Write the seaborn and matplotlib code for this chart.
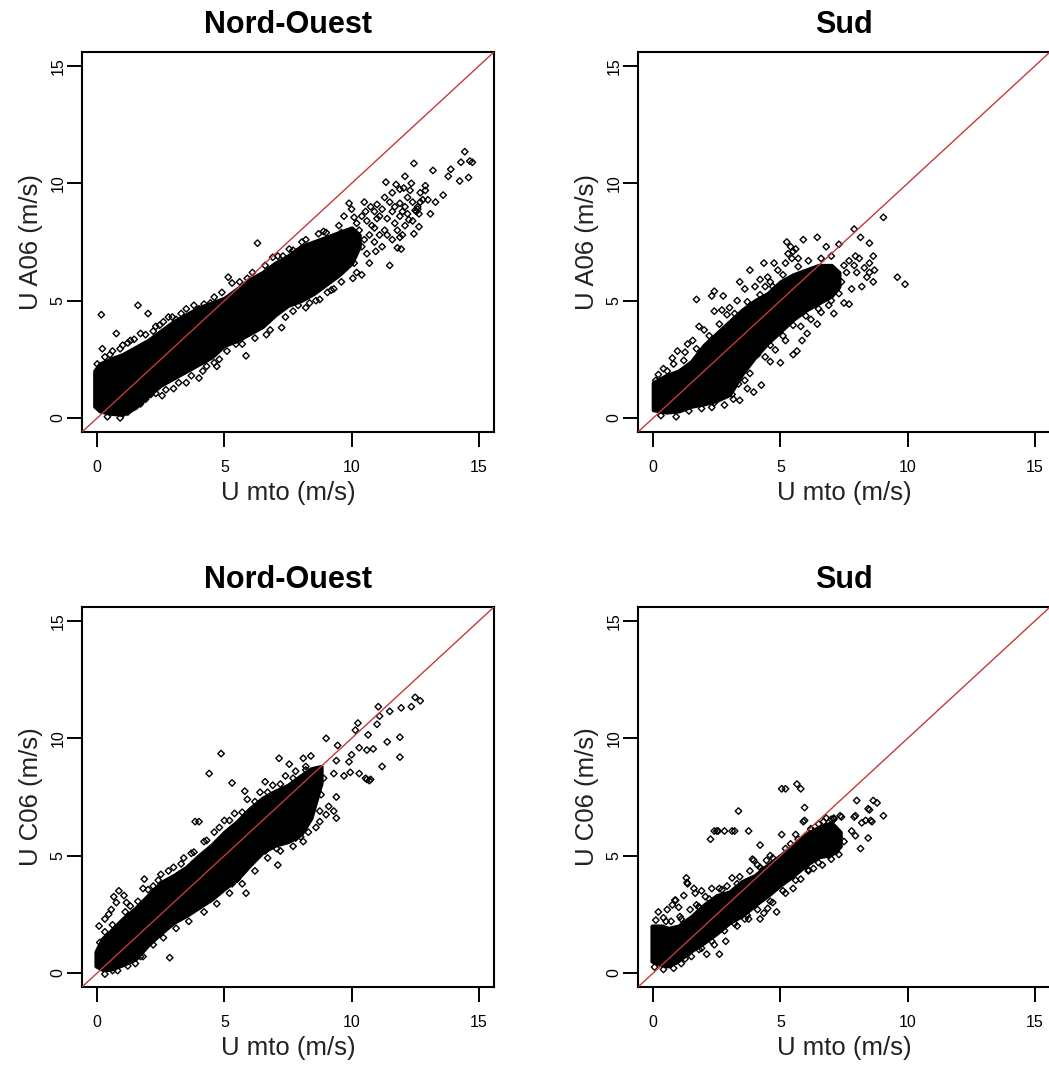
import matplotlib
matplotlib.use("Agg")
import matplotlib.pyplot as plt
import numpy as np
import pandas as pd
import seaborn as sns

# ---------------------------------------------------------------
# Wind speed comparisons (m/s): observed "U mto" against model runs
# ---------------------------------------------------------------

# Ticks shared by both axes of every panel
axis_ticks = [0, 5, 10, 15]

# Panel titles and axis labels
titles = ["Nord-Ouest", "Sud", "Nord-Ouest", "Sud"]
x_label = "U mto (m/s)"
y_labels = ["U A06 (m/s)", "U A06 (m/s)", "U C06 (m/s)", "U C06 (m/s)"]

# Extent of the saturated (overplotted) part of each cloud:
# x stations with the lower / upper y where the points merge into black
nw_a_band_x = [-0.1, 0.1, 0.5, 1.0, 1.5, 2.0, 2.5, 3.0, 3.5, 4.0, 4.5, 5.0,
               5.5, 6.0, 6.5, 7.0, 7.5, 8.0, 8.5, 9.0, 9.5, 10.0, 10.3]
nw_a_band_lo = [0.5, 0.3, 0.2, 0.15, 0.45, 0.95, 1.4, 1.7, 2.0, 2.3, 2.6, 3.1,
                3.3, 3.6, 3.9, 4.4, 4.8, 5.0, 5.3, 5.7, 6.1, 6.6, 7.3]
nw_a_band_hi = [2.0, 2.3, 2.5, 2.7, 3.0, 3.3, 3.7, 4.1, 4.4, 4.7, 4.9, 5.1,
                5.5, 5.9, 6.2, 6.6, 6.9, 7.3, 7.5, 7.7, 7.9, 8.1, 7.8]

s_a_band_x = [0.0, 0.5, 1.0, 1.5, 2.0, 2.5, 3.0, 3.5, 4.0, 4.5, 5.0,
              5.5, 6.0, 6.5, 7.0, 7.3]
s_a_band_lo = [0.35, 0.25, 0.3, 0.5, 0.6, 0.75, 1.0, 1.9, 2.6, 3.2, 3.7,
               4.2, 4.6, 4.9, 5.2, 5.6]
s_a_band_hi = [1.5, 1.8, 2.0, 2.4, 3.1, 3.6, 4.1, 4.6, 5.0, 5.3, 5.8,
               6.1, 6.3, 6.5, 6.5, 6.2]

nw_c_band_x = [-0.05, 0.2, 0.5, 1.0, 1.5, 2.0, 2.5, 3.0, 3.5, 4.0, 4.5, 5.0,
               5.5, 6.0, 6.5, 7.0, 7.5, 8.0, 8.4, 8.8]
nw_c_band_lo = [0.3, 0.15, 0.15, 0.35, 0.6, 1.2, 1.7, 2.15, 2.45, 2.8, 3.15,
                3.6, 4.0, 4.6, 5.15, 5.45, 5.6, 5.9, 6.6, 8.1]
nw_c_band_hi = [0.9, 1.45, 1.75, 2.3, 2.75, 3.3, 3.85, 4.15, 4.5, 5.0, 5.45,
                6.0, 6.45, 7.0, 7.45, 7.75, 8.0, 8.4, 8.7, 8.8]

s_c_band_x = [-0.05, 0.3, 0.6, 1.0, 1.5, 2.0, 2.5, 3.0, 3.5, 4.0, 4.5, 5.0,
              5.5, 6.0, 6.5, 7.0, 7.35]
s_c_band_lo = [0.5, 0.35, 0.3, 0.55, 0.95, 1.3, 1.7, 2.15, 2.45, 2.9, 3.3,
               3.75, 4.15, 4.6, 4.95, 5.05, 5.4]
s_c_band_hi = [2.0, 2.0, 1.9, 2.0, 2.4, 2.9, 3.3, 3.45, 3.9, 4.15, 4.6, 5.0,
               5.45, 5.9, 6.2, 6.4, 6.0]

# Individually visible observations (x = U mto, y = model)
nw_a_pts = [
    (0.16, 4.4), (1.6, 4.8), (2.0, 4.45), (0.75, 3.6), (0.2, 2.95), (0.5, 2.7),
    (1.0, 3.1), (1.3, 3.3), (1.7, 3.6), (2.3, 3.9), (2.6, 4.1), (2.95, 4.3),
    (3.3, 4.45), (3.1, 4.2), (4.0, 4.65), (4.2, 4.85), (4.45, 4.9), (5.15, 6.0),
    (5.9, 5.95), (6.3, 7.45), (6.9, 6.85), (7.3, 6.9), (7.7, 7.15), (8.05, 7.5),
    (8.4, 7.3), (8.7, 7.85), (9.9, 9.15), (10.1, 8.55), (10.55, 8.8),
    (10.75, 9.0), (11.0, 9.1), (11.2, 8.9), (11.35, 10.05), (11.75, 9.95),
    (11.9, 9.75), (12.05, 9.8), (12.35, 10.0), (12.45, 10.85), (12.7, 9.6),
    (12.9, 9.7), (13.2, 10.55), (13.6, 9.5), (13.8, 10.3), (13.9, 10.6),
    (14.25, 10.1), (14.3, 10.9), (14.45, 11.35), (14.6, 10.25), (14.65, 10.95),
    (14.75, 10.9), (12.65, 8.7), (13.1, 8.7), (12.45, 7.85), (12.65, 8.15),
    (12.25, 8.45), (11.9, 9.15), (12.1, 9.0), (11.6, 8.8), (11.4, 8.5),
    (11.5, 6.5), (11.8, 7.25), (11.95, 7.2), (10.95, 7.1), (10.4, 6.1),
    (10.05, 5.95), (9.3, 5.5), (9.05, 5.35), (8.75, 5.05), (8.35, 4.9),
    (7.9, 4.8), (7.25, 3.85), (6.65, 3.55), (5.85, 2.65), (5.45, 3.15),
    (4.8, 2.5), (4.7, 2.2), (4.15, 2.0), (4.0, 1.7), (3.5, 1.5), (3.0, 1.25),
    (2.55, 0.95), (2.1, 1.0), (1.35, 0.45), (9.6, 7.9), (9.8, 7.5), (10.0, 7.8),
    (10.2, 7.2), (10.3, 8.0), (10.5, 7.6), (10.6, 7.0), (10.8, 8.2),
    (10.9, 7.5), (11.0, 8.5), (11.1, 7.8), (11.3, 8.0), (11.5, 9.2),
    (11.6, 7.6), (11.7, 8.3), (11.9, 8.6), (12.1, 8.2), (12.2, 9.4),
    (12.4, 9.2), (12.6, 9.0), (12.8, 9.3), (12.0, 7.8), (11.2, 7.3),
    (10.7, 6.6), (9.7, 6.4), (9.4, 6.8), (9.2, 7.4), (9.0, 7.9), (10.4, 8.6),
    (10.9, 8.8), (12.5, 8.85), (12.6, 8.9), (12.55, 8.8), (9.6, 7.2),
    (9.9, 6.9), (10.1, 6.6), (9.3, 6.2), (8.9, 6.0), (9.1, 6.6),
    (9.5, 8.2), (9.7, 8.6), (10.0, 8.9), (10.2, 8.3), (10.4, 7.3), (10.6, 8.4),
    (10.7, 7.8), (10.9, 8.1), (11.1, 8.6), (11.3, 9.4), (11.4, 7.8),
    (11.6, 9.6), (11.8, 8.0), (11.9, 7.7), (12.0, 8.8), (12.2, 8.7),
    (12.3, 9.7), (12.4, 8.4), (12.7, 9.2), (12.9, 9.9), (13.0, 9.3),
    (13.3, 9.2), (12.1, 10.3), (11.7, 9.0), (10.5, 9.2),
    # fringe along the upper edge of the core
    (0.0, 2.3), (0.3, 2.6), (0.6, 2.85), (0.9, 2.95), (1.2, 3.2), (1.45, 3.35),
    (1.9, 3.55), (2.2, 3.7), (2.45, 3.95), (2.8, 4.3), (3.5, 4.65), (3.8, 4.8),
    (4.6, 5.15), (4.9, 5.35), (5.3, 5.75), (5.6, 5.8), (6.1, 6.2), (6.6, 6.5),
    (7.1, 6.9), (7.55, 7.2), (8.2, 7.6), (8.9, 7.95),
    # fringe along the lower edge of the core
    (0.4, 0.05), (0.9, 0.0), (1.2, 0.25), (1.7, 0.6), (1.9, 0.8), (2.3, 1.05),
    (2.7, 1.2), (3.2, 1.5), (3.7, 1.8), (4.3, 2.2), (4.6, 2.35), (5.1, 2.85),
    (5.7, 3.15), (6.2, 3.4), (6.8, 3.75), (7.4, 4.3), (7.7, 4.55), (8.2, 4.7),
    (8.6, 5.0), (9.2, 5.45), (9.6, 5.8), (10.2, 6.2),
]

s_a_pts = [
    (1.7, 5.05), (2.4, 5.4), (2.75, 5.2), (2.3, 5.2), (3.4, 5.8), (3.8, 6.3),
    (4.35, 6.6), (4.75, 6.6), (5.25, 7.5), (5.4, 7.3), (5.5, 7.1), (5.7, 6.8),
    (5.9, 7.6), (6.45, 7.7), (6.8, 7.3), (7.3, 7.4), (7.9, 8.05), (8.15, 7.7),
    (8.5, 7.45), (8.65, 6.9), (7.95, 6.9), (8.5, 6.2), (8.65, 5.8), (7.5, 4.9),
    (7.7, 4.85), (7.1, 4.45), (6.45, 4.0), (6.05, 3.6), (5.85, 3.3),
    (5.65, 2.85), (5.5, 2.7), (5.0, 2.35), (4.6, 2.4), (4.25, 1.4),
    (3.95, 1.1), (3.7, 1.25), (3.4, 0.75), (3.15, 0.8), (2.4, 0.65),
    (9.05, 8.55), (9.6, 6.0), (9.9, 5.7), (0.1, 1.6), (0.55, 2.0),
    (0.75, 2.55), (0.95, 2.85), (1.35, 3.15), (1.55, 3.3), (2.0, 3.75),
    (1.8, 3.9), (2.4, 4.55), (2.7, 4.6), (3.0, 4.7), (3.3, 5.0), (3.6, 5.5),
    (4.0, 5.6), (4.2, 5.9), (4.5, 6.0), (4.9, 6.3), (5.2, 6.6), (7.7, 6.7),
    (7.9, 6.5), (8.1, 6.8), (8.3, 6.4), (8.5, 6.6), (7.6, 6.2), (8.0, 6.2),
    (8.4, 6.0), (8.2, 5.6), (7.8, 5.5), (7.4, 5.8), (7.5, 6.5), (8.7, 6.3),
    (5.3, 7.0), (5.45, 6.8), (5.6, 7.2), (4.4, 5.6), (4.6, 5.8), (4.8, 5.5),
    (6.6, 4.5), (6.9, 4.8), (6.2, 4.2), (5.8, 3.9), (5.2, 3.3), (4.8, 2.9),
    (4.4, 2.6), (3.8, 1.9), (3.6, 1.6),
    # fringe along the upper edge of the core
    (0.2, 1.85), (0.4, 2.1), (0.8, 2.3), (1.2, 2.45), (1.25, 2.8), (1.7, 2.95),
    (2.2, 3.5), (2.6, 4.0), (2.9, 4.4), (3.2, 4.45), (3.7, 4.95), (4.2, 5.25),
    (4.7, 5.6), (5.1, 6.1), (5.7, 6.45), (6.1, 6.7), (6.6, 6.8), (7.0, 6.9),
    # fringe along the lower edge of the core
    (0.3, 0.1), (0.9, 0.05), (1.4, 0.3), (1.9, 0.4), (2.3, 0.45), (2.8, 0.55),
    (3.1, 1.0), (3.35, 1.45), (3.7, 2.5), (4.1, 2.7), (4.6, 3.1), (5.1, 3.5),
    (5.5, 3.95), (6.0, 4.35), (6.5, 4.65), (7.0, 5.0), (7.3, 5.3),
]

nw_c_pts = [
    (4.87, 9.35), (4.4, 8.5), (4.0, 6.45), (3.85, 6.45), (5.3, 8.1),
    (5.8, 7.75), (6.6, 8.15), (7.15, 9.15), (7.55, 8.9), (8.1, 9.15),
    (8.4, 9.25), (9.0, 10.0), (9.45, 9.7), (10.25, 10.65), (10.15, 10.35),
    (10.65, 10.15), (11.05, 11.35), (11.1, 10.95), (11.5, 11.15),
    (11.95, 11.3), (12.35, 11.35), (12.7, 11.6), (12.5, 11.75), (11.0, 10.6),
    (11.4, 9.85), (10.85, 9.55), (10.6, 9.5), (11.2, 8.8), (11.9, 10.05),
    (11.9, 9.2), (10.3, 9.6), (9.9, 9.0), (10.0, 9.3), (9.4, 9.05), (9.3, 8.5),
    (9.7, 8.4), (9.95, 8.55), (10.3, 8.5), (10.55, 8.3), (10.7, 8.2),
    (10.6, 8.25), (10.75, 8.25), (9.4, 7.5), (9.3, 6.9), (9.4, 6.6),
    (8.75, 6.9), (8.75, 6.45), (9.0, 6.75), (8.35, 7.2), (7.95, 6.75),
    (7.8, 5.75), (7.05, 5.3), (7.1, 4.6), (6.6, 5.2), (6.3, 5.0), (5.85, 3.4),
    (5.5, 4.0), (5.3, 3.8), (4.0, 2.85), (2.85, 0.65), (1.9, 1.4),
    (1.65, 0.95), (1.5, 0.4), (1.4, 1.0), (1.8, 0.7), (0.6, 0.1), (0.07, 2.0),
    (0.3, 2.3), (0.45, 2.5), (0.55, 2.7), (0.65, 3.25), (0.85, 3.5),
    (0.75, 3.0), (1.05, 3.3), (1.15, 3.0), (1.3, 2.85), (1.85, 4.0),
    (1.8, 3.6), (2.2, 3.7), (2.5, 4.2), (3.0, 4.5), (3.4, 4.9), (3.7, 5.1),
    (4.2, 5.6), (4.6, 6.0), (5.0, 6.5), (5.4, 6.8), (5.9, 7.4), (6.4, 7.7),
    (6.9, 8.0), (7.4, 8.4), (7.8, 8.6), (8.2, 8.8), (8.6, 8.5), (8.9, 8.3),
    (8.5, 7.9), (8.2, 7.4), (8.8, 7.6), (9.1, 7.1), (8.6, 6.2), (8.3, 6.0),
    (8.0, 5.8),
    # fringe along the upper edge of the core
    (0.1, 1.3), (0.3, 1.75), (0.6, 2.05), (1.1, 2.6), (1.6, 3.05), (2.0, 3.55),
    (2.4, 3.95), (2.8, 4.35), (3.3, 4.65), (3.8, 5.15), (4.3, 5.65),
    (4.8, 6.2), (5.2, 6.5), (5.7, 6.85), (6.2, 7.3), (6.7, 7.7), (7.2, 8.05),
    (7.7, 8.3), (8.2, 8.65),
    # fringe along the lower edge of the core
    (0.3, -0.05), (0.8, 0.1), (1.2, 0.3), (1.7, 0.7), (2.2, 1.2), (2.6, 1.5),
    (3.1, 1.9), (3.6, 2.2), (4.2, 2.6), (4.7, 2.95), (5.2, 3.4), (5.7, 3.8),
    (6.2, 4.35), (6.7, 4.9), (7.2, 5.2), (7.7, 5.4), (8.1, 5.6),
]

s_c_pts = [
    (5.05, 7.85), (5.2, 7.85), (5.65, 8.05), (5.8, 7.85), (5.95, 7.05),
    (3.35, 6.9), (3.75, 6.05), (2.4, 6.05), (2.5, 6.05), (2.55, 6.05),
    (2.8, 6.05), (3.1, 6.05), (3.2, 6.05), (2.25, 5.7), (4.2, 5.45),
    (5.05, 5.9), (5.9, 6.45), (5.95, 6.5), (7.35, 6.7), (7.4, 6.65),
    (7.1, 6.55), (7.95, 6.7), (7.9, 6.65), (8.0, 7.35), (8.45, 7.0),
    (8.5, 6.95), (8.65, 7.35), (8.8, 7.25), (9.05, 6.7), (8.6, 6.45),
    (8.55, 6.5), (8.2, 6.4), (8.35, 6.5), (7.8, 6.05), (7.95, 5.85),
    (8.45, 5.75), (8.15, 5.3), (7.5, 5.6), (7.3, 5.8), (6.65, 4.6),
    (6.3, 4.45), (5.5, 3.6), (4.85, 2.6), (4.2, 2.3), (4.35, 2.55),
    (4.5, 2.75), (3.75, 2.3), (2.85, 1.35), (2.6, 0.8), (2.1, 0.8),
    (1.8, 1.0), (1.25, 0.6), (0.9, 0.5), (0.2, 2.6), (0.55, 2.7), (0.75, 2.9),
    (0.85, 3.1), (0.88, 3.1), (1.2, 3.3), (1.3, 4.05), (1.35, 3.8),
    (1.33, 3.85), (1.6, 3.6), (1.65, 3.4), (1.9, 3.5), (2.05, 3.25),
    (1.8, 2.8), (1.78, 2.82), (0.8, 1.5), (0.7, 1.7), (0.9, 1.6), (0.4, 1.9),
    (0.5, 2.2), (1.05, 2.4), (1.2, 2.1), (1.0, 2.8), (2.3, 3.6), (2.7, 3.55),
    (3.1, 4.05), (3.3, 3.8), (3.95, 4.8), (3.9, 4.85), (4.1, 4.6), (4.3, 4.4),
    (4.6, 5.0), (4.45, 4.8), (5.4, 5.5), (5.6, 5.9), (6.2, 6.1), (6.5, 6.35),
    (6.8, 6.6), (7.0, 6.55), (6.9, 5.0), (7.2, 5.2), (6.1, 4.4), (5.8, 4.0),
    (5.2, 3.4), (4.7, 3.0), (3.6, 2.3), (3.3, 2.0), (2.4, 1.2),
    # fringe along the upper edge of the core
    (0.1, 2.25), (0.4, 2.35), (0.7, 2.2), (1.1, 2.3), (1.45, 2.7), (1.7, 2.9),
    (2.2, 3.15), (2.6, 3.6), (2.9, 3.7), (3.4, 4.1), (3.8, 4.35), (4.2, 4.5),
    (4.7, 4.9), (5.2, 5.3), (5.7, 5.7), (6.2, 6.15), (6.7, 6.45), (7.1, 6.6),
    # fringe along the lower edge of the core
    (0.05, 0.25), (0.4, 0.15), (0.8, 0.2), (1.1, 0.4), (1.5, 0.7), (1.9, 1.05),
    (2.3, 1.35), (2.8, 1.8), (3.2, 2.1), (3.7, 2.45), (4.1, 2.7), (4.6, 3.05),
    (5.1, 3.5), (5.6, 3.95), (6.1, 4.35), (6.5, 4.7), (7.0, 4.85), (7.3, 5.05),
]

panels = [
    (nw_a_band_x, nw_a_band_lo, nw_a_band_hi, nw_a_pts),
    (s_a_band_x, s_a_band_lo, s_a_band_hi, s_a_pts),
    (nw_c_band_x, nw_c_band_lo, nw_c_band_hi, nw_c_pts),
    (s_c_band_x, s_c_band_lo, s_c_band_hi, s_c_pts),
]

# ---------------------------------------------------------------
sns.set_theme(style="white")
plt.rcParams["font.family"] = ["Liberation Sans", "DejaVu Sans"]

W, H = 1049, 1070
fig = plt.figure(figsize=(W / 100, H / 100), dpi=100)

AX_W, AX_H = 412, 380
origins = [(82, 52), (638, 52), (82, 607), (638, 607)]

LIM = (-0.6, 15.6)
LINE_RED = "#C23B3B"

for i, (left, top) in enumerate(origins):
    ax = fig.add_axes([left / W, 1 - (top + AX_H) / H, AX_W / W, AX_H / H])
    bx, blo, bhi, pts = panels[i]

    # overplotted core of the cloud
    ax.fill_between(bx, blo, bhi, color="black", lw=3.0, edgecolor="black",
                    joinstyle="round", zorder=2)

    df = pd.DataFrame(pts, columns=["u_mto", "u_model"])
    sns.scatterplot(data=df, x="u_mto", y="u_model", ax=ax, marker="D",
                    s=11, color="black", linewidth=1.0, zorder=3,
                    legend=False)
    for coll in ax.collections[1:]:
        coll.set_facecolor("none")
        coll.set_edgecolor("black")

    # 1:1 reference line
    ax.axline((0, 0), slope=1, color=LINE_RED, lw=1.0, zorder=4)

    ax.set_xlim(LIM)
    ax.set_ylim(LIM)
    ax.set_xticks(axis_ticks)
    ax.set_yticks(axis_ticks)
    ax.set_xticklabels([str(t) for t in axis_ticks])
    ax.set_yticklabels([str(t) for t in axis_ticks], rotation=90,
                       va="center")
    ax.tick_params(axis="both", direction="out", length=11, width=1.4,
                   color="black", labelsize=11.5, labelcolor="black")
    ax.tick_params(axis="x", pad=9, bottom=True)
    ax.tick_params(axis="y", pad=1, left=True)

    for side, sp in ax.spines.items():
        sp.set_color("black")
        sp.set_linewidth(1.5)
    if left > 500:
        ax.spines["right"].set_visible(False)

    ax.set_xlabel("")
    ax.set_ylabel("")

    ax.text(0.5, 1 + 18.6 / AX_H, titles[i], transform=ax.transAxes,
            ha="center", va="baseline", fontsize=22, fontweight="bold",
            color="black")
    ax.text(0.5, -68 / AX_H, x_label, transform=ax.transAxes,
            ha="center", va="baseline", fontsize=18.5, color="#222222")
    ax.text((38 - 82) / AX_W, 0.5, y_labels[i], transform=ax.transAxes,
            ha="center", va="baseline", rotation=90, rotation_mode="anchor",
            fontsize=18.5, color="#222222")

fig.savefig("out.png", dpi=100, facecolor="white")
